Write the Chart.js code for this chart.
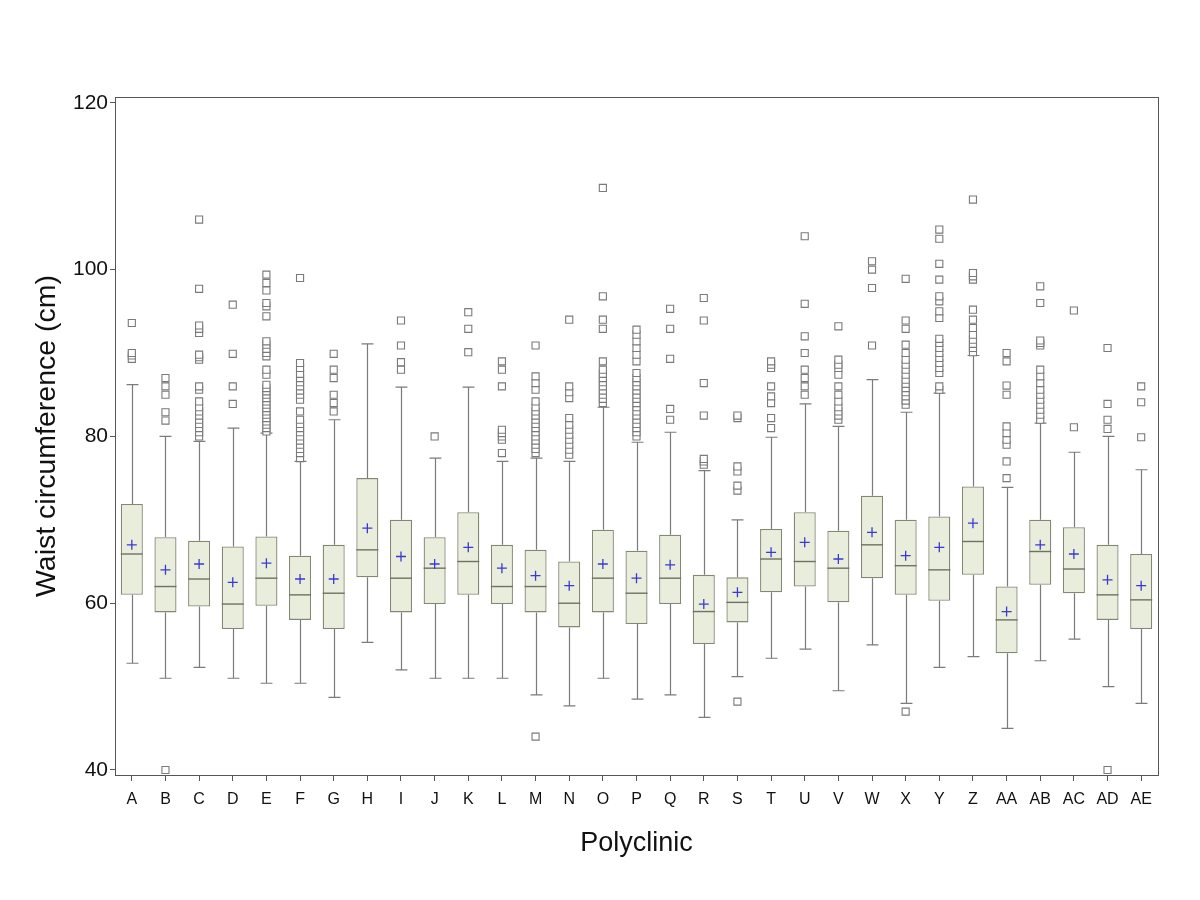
<!DOCTYPE html>
<html lang="en">
<head>
    <meta charset="UTF-8">
    <script src="https://cdn.jsdelivr.net/npm/chart.js@4.4.1/dist/chart.umd.min.js"></script>
    <title>Waist circumference by polyclinic</title>
    <style>
        body { margin: 0; background: #fff; }
    </style>
</head>
<body>
    <canvas id="chart" width="1200" height="900"></canvas>

    <script>
        const labels = ['A','B','C','D','E','F','G','H','I','J','K','L','M','N','O','P','Q','R','S','T','U','V','W','X','Y','Z','AA','AB','AC','AD','AE'];
        const yTicks = [40, 60, 80, 100, 120];

        const whiskerLow  = [52.8, 51.0, 52.3, 51.0, 50.4, 50.4, 48.7, 55.3, 52.0, 51.0, 51.0, 51.0, 49.0, 47.7, 51.0, 48.5, 49.0, 46.3, 51.2, 53.4, 54.5, 49.5, 55.0, 48.0, 52.3, 53.6, 45.0, 53.1, 55.7, 50.0, 48.0];
        const q1          = [61.0, 58.9, 59.6, 56.9, 59.7, 58.0, 56.9, 63.1, 58.9, 59.9, 61.0, 59.9, 58.9, 57.1, 58.9, 57.5, 59.9, 55.1, 57.7, 61.3, 62.0, 60.1, 63.0, 61.0, 60.3, 63.4, 54.0, 62.2, 61.2, 58.0, 56.9];
        const median      = [65.9, 62.0, 62.9, 59.9, 63.0, 61.0, 61.2, 66.4, 63.0, 64.2, 65.0, 62.0, 62.0, 60.0, 63.0, 61.2, 63.0, 59.0, 60.1, 65.3, 65.0, 64.2, 67.0, 64.5, 64.0, 67.4, 58.0, 66.2, 64.1, 61.0, 60.4];
        const q3          = [71.9, 67.9, 67.5, 66.8, 68.0, 65.7, 67.0, 75.0, 70.0, 67.9, 70.9, 67.0, 66.4, 65.0, 68.8, 66.3, 68.2, 63.4, 63.1, 68.9, 70.9, 68.7, 72.9, 70.0, 70.4, 74.0, 62.0, 70.0, 69.1, 67.0, 65.9];
        const whiskerHigh = [86.2, 80.0, 79.4, 81.0, 80.4, 77.0, 82.0, 91.1, 85.9, 77.4, 85.9, 77.0, 77.4, 77.0, 83.5, 79.3, 80.5, 75.9, 70.0, 79.9, 83.9, 81.2, 86.8, 82.9, 85.2, 89.7, 73.9, 81.6, 78.1, 80.0, 76.0];
        const means       = [67.0, 64.0, 64.7, 62.5, 64.8, 62.9, 62.9, 69.0, 65.6, 64.7, 66.7, 64.2, 63.3, 62.1, 64.7, 63.0, 64.6, 59.9, 61.3, 66.1, 67.3, 65.3, 68.5, 65.7, 66.7, 69.6, 59.0, 67.0, 65.9, 62.8, 62.1];

        const outliers = [
            [89.3, 89.7, 90.0, 93.6],
            [40.0, 81.9, 82.9, 85.0, 86.0, 87.0],
            [80.0, 80.5, 81.0, 81.5, 82.0, 82.5, 83.0, 83.5, 84.2, 85.6, 86.0, 89.2, 89.5, 89.8, 92.4, 92.9, 93.3, 97.7, 106.0],
            [83.9, 86.0, 89.9, 95.8],
            [80.6, 81.0, 81.4, 81.8, 82.2, 82.6, 83.0, 83.4, 83.8, 84.2, 84.6, 85.0, 85.4, 85.8, 86.2, 87.4, 88.0, 89.6, 90.0, 90.5, 91.0, 91.4, 94.4, 95.6, 96.0, 97.5, 98.4, 99.4],
            [77.4, 78.0, 78.5, 79.0, 79.5, 80.0, 80.5, 81.0, 81.5, 82.0, 83.0, 84.4, 85.0, 85.5, 86.0, 86.5, 87.0, 87.5, 88.2, 88.8, 99.0],
            [83.0, 84.0, 85.0, 87.0, 88.0, 89.9],
            [],
            [88.0, 88.9, 90.9, 93.9],
            [80.0],
            [90.1, 92.9, 94.9],
            [78.0, 79.6, 80.0, 80.4, 80.8, 86.0, 88.0, 89.0],
            [44.0, 78.0, 78.5, 79.0, 79.5, 80.0, 80.5, 81.0, 81.5, 82.0, 82.5, 83.0, 83.5, 84.2, 85.6, 86.4, 87.2, 90.9],
            [77.8, 78.4, 79.0, 79.6, 80.2, 80.8, 81.4, 82.2, 84.6, 85.3, 86.0, 94.0],
            [84.0, 84.5, 85.0, 85.5, 86.0, 86.5, 87.0, 87.5, 88.0, 89.0, 92.9, 94.0, 96.8, 109.8],
            [80.0, 80.5, 81.0, 81.5, 82.0, 82.5, 83.0, 83.5, 84.0, 84.5, 85.0, 85.5, 86.0, 86.5, 87.0, 87.6, 89.0, 89.8, 90.6, 91.4, 92.2, 92.8],
            [82.0, 83.3, 89.3, 92.9, 95.3],
            [76.6, 77.0, 77.3, 82.5, 86.4, 93.9, 96.6],
            [48.2, 73.5, 74.1, 75.8, 76.4, 82.2, 82.5],
            [81.0, 82.2, 84.0, 84.8, 86.0, 88.2, 88.6, 89.0],
            [85.0, 86.0, 87.0, 88.0, 90.0, 92.0, 95.9, 104.0],
            [82.0, 82.5, 83.0, 83.5, 84.2, 85.0, 86.0, 87.4, 88.2, 88.6, 89.2, 93.2],
            [90.9, 97.8, 100.0, 101.0],
            [47.0, 83.8, 84.3, 84.8, 85.3, 85.8, 86.3, 86.8, 87.4, 88.0, 88.6, 89.2, 90.0, 91.0, 92.9, 93.9, 98.9],
            [85.6, 86.0, 87.6, 88.2, 88.8, 89.4, 90.0, 90.6, 91.2, 91.7, 94.2, 95.0, 96.2, 96.8, 98.8, 100.7, 103.7, 104.8],
            [90.1, 90.6, 91.1, 91.6, 92.2, 93.0, 94.0, 95.2, 98.8, 99.2, 99.6, 108.4],
            [75.0, 77.0, 79.0, 79.6, 80.4, 81.2, 85.0, 86.1, 89.0, 90.0],
            [82.0, 82.6, 83.2, 83.8, 84.4, 85.0, 85.6, 86.4, 87.2, 88.0, 90.9, 91.2, 91.5, 96.0, 98.0],
            [81.1, 95.1],
            [40.0, 80.9, 82.0, 83.9, 90.6],
            [79.9, 84.1, 86.0]
        ];

        const FONT = "'Liberation Sans', Arial, sans-serif";
        const lineGray = '#7b7b7b';

        // whiskers, caps, medians and the plot frame, all through the chart's scales
        const boxPlugin = {
            id: 'boxPlugin',
            beforeDatasetsDraw(chart) {
                const ctx = chart.ctx;
                const y = chart.scales.y;
                const bars = chart.getDatasetMeta(0).data;
                ctx.save();
                ctx.strokeStyle = lineGray;
                ctx.lineWidth = 1.2;
                bars.forEach((bar, i) => {
                    const cx = Math.round(bar.x) + 0.5;
                    const capHalf = bar.width * 0.27;
                    const lo = y.getPixelForValue(whiskerLow[i]);
                    const hi = y.getPixelForValue(whiskerHigh[i]);
                    ctx.beginPath();
                    ctx.moveTo(cx, y.getPixelForValue(q1[i]));
                    ctx.lineTo(cx, lo);
                    ctx.moveTo(cx - capHalf, lo);
                    ctx.lineTo(cx + capHalf, lo);
                    ctx.moveTo(cx, y.getPixelForValue(q3[i]));
                    ctx.lineTo(cx, hi);
                    ctx.moveTo(cx - capHalf, hi);
                    ctx.lineTo(cx + capHalf, hi);
                    ctx.stroke();
                });
                ctx.restore();
            },
            afterDatasetDraw(chart, args) {
                if (args.index !== 0) return;
                const ctx = chart.ctx;
                const y = chart.scales.y;
                ctx.save();
                ctx.strokeStyle = '#6e7262';
                ctx.lineWidth = 1.4;
                args.meta.data.forEach((bar, i) => {
                    const my = y.getPixelForValue(median[i]);
                    ctx.beginPath();
                    ctx.moveTo(bar.x - bar.width / 2, my);
                    ctx.lineTo(bar.x + bar.width / 2, my);
                    ctx.stroke();
                });
                ctx.restore();
            },
            afterDraw(chart) {
                const {ctx, chartArea} = chart;
                ctx.save();
                ctx.strokeStyle = '#555';
                ctx.lineWidth = 1;
                ctx.strokeRect(chartArea.left + 0.5, chartArea.top + 0.5, chartArea.right - chartArea.left, chartArea.bottom - chartArea.top);
                ctx.restore();
            }
        };

        const outlierPoints = [];
        outliers.forEach((list, i) => {
            list.forEach(v => outlierPoints.push({ x: labels[i], y: v }));
        });

        new Chart(document.getElementById('chart'), {
            type: 'bar',
            data: {
                labels: labels,
                datasets: [
                    {
                        type: 'bar',
                        label: 'IQR',
                        data: q1.map((v, i) => [v, q3[i]]),
                        backgroundColor: '#e9eddb',
                        borderColor: '#858775',
                        borderWidth: 1.3,
                        borderSkipped: false,
                        barPercentage: 0.655,
                        categoryPercentage: 1,
                        order: 3
                    },
                    {
                        type: 'line',
                        label: 'Mean',
                        data: means,
                        showLine: false,
                        pointStyle: 'cross',
                        pointRadius: 5,
                        pointBorderColor: '#3a3ad0',
                        pointBorderWidth: 1.3,
                        order: 1
                    },
                    {
                        type: 'scatter',
                        label: 'Outliers',
                        data: outlierPoints,
                        pointStyle: 'rect',
                        pointRadius: 5,
                        pointBackgroundColor: '#ffffff',
                        pointBorderColor: '#7a7a7a',
                        pointBorderWidth: 1.1,
                        order: 2
                    }
                ]
            },
            options: {
                responsive: false,
                animation: false,
                layout: { padding: { top: 97, right: 42, left: 0, bottom: 0 } },
                plugins: {
                    legend: { display: false },
                    tooltip: { enabled: false }
                },
                scales: {
                    x: {
                        type: 'category',
                        offset: true,
                        grid: { drawOnChartArea: false, offset: false, tickLength: 6, color: '#555' },
                        border: { color: '#555' },
                        ticks: { font: { family: FONT, size: 16 }, color: '#111', padding: 9, maxRotation: 0, autoSkip: false },
                        title: { display: true, text: 'Polyclinic', font: { family: FONT, size: 27 }, color: '#111', padding: { bottom: 40 } },
                        afterFit(scale) { scale.height = 125; }
                    },
                    y: {
                        min: 39.4,
                        max: 120.7,
                        grid: { drawOnChartArea: false, tickLength: 5, color: '#555' },
                        border: { color: '#555' },
                        ticks: { font: { family: FONT, size: 21 }, color: '#111', padding: 2 },
                        afterBuildTicks(scale) { scale.ticks = yTicks.map(v => ({ value: v })); },
                        title: { display: true, text: 'Waist circumference (cm)', font: { family: FONT, size: 28.5 }, color: '#111', padding: { top: 30 } },
                        afterFit(scale) { scale.width = 115; }
                    }
                }
            },
            plugins: [boxPlugin]
        });
    </script>
</body>
</html>
